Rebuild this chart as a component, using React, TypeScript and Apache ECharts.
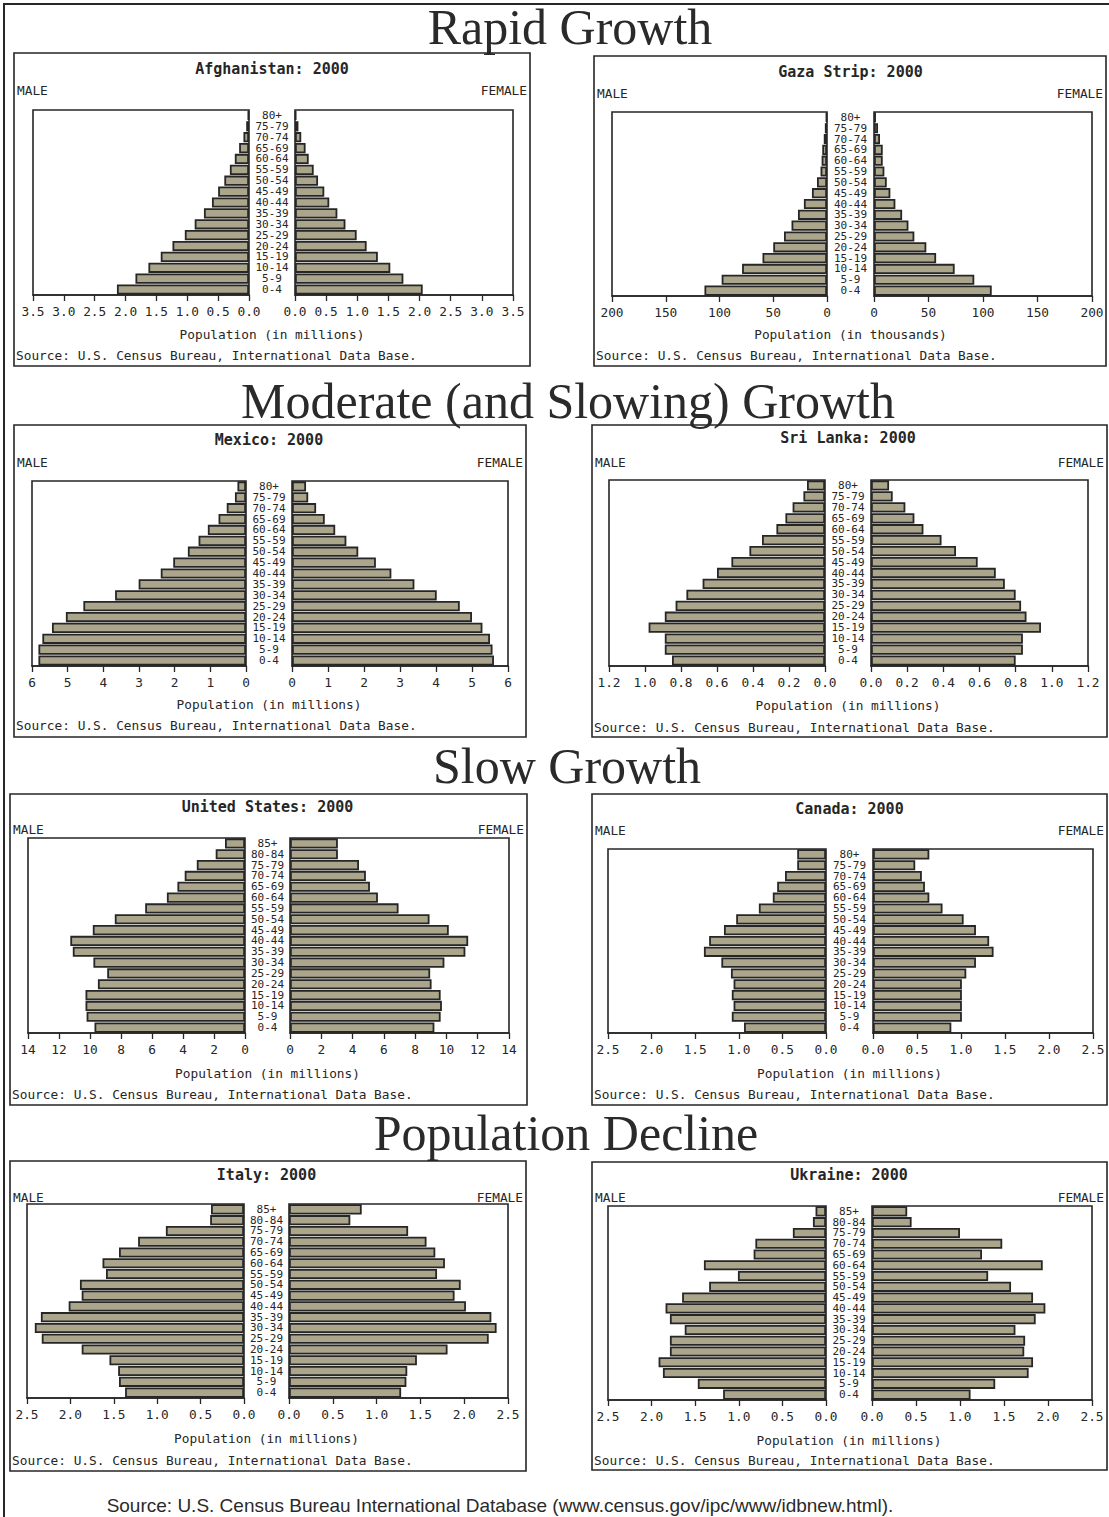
import React, { useEffect, useRef } from "react";
import * as echarts from "echarts";

// ---------- Data ----------
const ages17 = ["0-4", "5-9", "10-14", "15-19", "20-24", "25-29", "30-34", "35-39", "40-44", "45-49", "50-54", "55-59", "60-64", "65-69", "70-74", "75-79", "80+"];
const ages18 = ["0-4", "5-9", "10-14", "15-19", "20-24", "25-29", "30-34", "35-39", "40-44", "45-49", "50-54", "55-59", "60-64", "65-69", "70-74", "75-79", "80-84", "85+"];

const sectionTitles = ["Rapid Growth", "Moderate (and Slowing) Growth", "Slow Growth", "Population Decline"];
const footerText = "Source: U.S. Census Bureau International Database (www.census.gov/ipc/www/idbnew.html).";
const panelSource = "Source: U.S. Census Bureau, International Data Base.";

const afghanistanMale = [2.14, 1.84, 1.63, 1.43, 1.24, 1.04, 0.88, 0.73, 0.6, 0.5, 0.4, 0.31, 0.23, 0.16, 0.09, 0.045, 0.02];
const afghanistanFemale = [2.05, 1.74, 1.53, 1.33, 1.15, 0.99, 0.81, 0.68, 0.55, 0.47, 0.37, 0.3, 0.22, 0.17, 0.1, 0.055, 0.02];

const gazaMale = [114, 98, 79, 60, 50, 40, 33, 27, 21.5, 14, 9.3, 6, 5, 4.4, 3, 2, 1];
const gazaFemale = [108, 92, 74, 57, 48, 37, 31.6, 25.8, 19.6, 15, 11.7, 9.5, 8, 8, 5.5, 3.7, 1.8];

const mexicoMale = [5.82, 5.82, 5.71, 5.44, 5.05, 4.56, 3.67, 3.01, 2.39, 2.04, 1.63, 1.33, 1.07, 0.77, 0.54, 0.31, 0.24];
const mexicoFemale = [5.61, 5.57, 5.5, 5.29, 5.0, 4.66, 4.02, 3.4, 2.76, 2.33, 1.84, 1.51, 1.2, 0.91, 0.67, 0.45, 0.39];

const sriLankaMale = [0.85, 0.89, 0.89, 0.98, 0.89, 0.83, 0.77, 0.68, 0.6, 0.52, 0.42, 0.35, 0.27, 0.22, 0.18, 0.12, 0.1];
const sriLankaFemale = [0.8, 0.84, 0.84, 0.94, 0.86, 0.83, 0.8, 0.74, 0.69, 0.59, 0.47, 0.39, 0.29, 0.24, 0.19, 0.12, 0.1];

const usMale = [9.71, 10.22, 10.29, 10.29, 9.49, 8.89, 9.78, 11.11, 11.27, 9.82, 8.4, 6.44, 5.04, 4.36, 3.89, 3.11, 1.89, 1.29];
const usFemale = [9.23, 9.63, 9.71, 9.63, 9.05, 8.96, 9.87, 11.21, 11.39, 10.15, 8.92, 6.94, 5.62, 5.11, 4.85, 4.41, 3.06, 3.06];

const canadaMale = [0.94, 1.08, 1.06, 1.08, 1.06, 1.09, 1.2, 1.4, 1.34, 1.17, 1.03, 0.77, 0.61, 0.56, 0.47, 0.33, 0.33];
const canadaFemale = [0.89, 1.01, 1.01, 1.01, 1.01, 1.06, 1.17, 1.37, 1.32, 1.17, 1.03, 0.79, 0.64, 0.59, 0.555, 0.48, 0.64];

const italyMale = [1.37, 1.44, 1.45, 1.55, 1.87, 2.33, 2.41, 2.34, 2.02, 1.87, 1.89, 1.59, 1.63, 1.44, 1.22, 0.9, 0.39, 0.38];
const italyFemale = [1.28, 1.34, 1.35, 1.46, 1.81, 2.28, 2.37, 2.31, 2.02, 1.89, 1.96, 1.69, 1.78, 1.67, 1.57, 1.36, 0.7, 0.83];

const ukraineMale = [1.18, 1.47, 1.87, 1.92, 1.79, 1.79, 1.62, 1.79, 1.84, 1.65, 1.34, 1.01, 1.4, 0.83, 0.81, 0.38, 0.15, 0.12];
const ukraineFemale = [1.12, 1.4, 1.78, 1.83, 1.73, 1.74, 1.63, 1.86, 1.97, 1.83, 1.58, 1.32, 1.94, 1.25, 1.48, 1.0, 0.45, 0.4];

// ---------- Layout ----------
type Panel = {
  title: string;
  ages: string[];
  male: number[];
  female: number[];
  max: number;
  interval: number;
  decimals: number;
  unit: string;
  box: number[];
  mp: number[];
  fp: number[];
  titleY: number;
  sexY: number;
  popY: number;
  srcY: number;
};

const panels: Panel[] = [
  { title: "Afghanistan: 2000", ages: ages17, male: afghanistanMale, female: afghanistanFemale, max: 3.5, interval: 0.5, decimals: 1, unit: "Population (in millions)",
    box: [14, 53, 530, 366], mp: [33, 110, 249, 295], fp: [295, 110, 513, 295], titleY: 69, sexY: 90, popY: 334, srcY: 355 },
  { title: "Gaza Strip: 2000", ages: ages17, male: gazaMale, female: gazaFemale, max: 200, interval: 50, decimals: 0, unit: "Population (in thousands)",
    box: [594, 56, 1106, 366], mp: [612, 112, 827, 296], fp: [874, 112, 1092, 296], titleY: 72, sexY: 93, popY: 334, srcY: 355 },
  { title: "Mexico: 2000", ages: ages17, male: mexicoMale, female: mexicoFemale, max: 6, interval: 1, decimals: 0, unit: "Population (in millions)",
    box: [14, 425, 526, 737], mp: [32, 481, 246, 666], fp: [292, 481, 508, 666], titleY: 440, sexY: 462, popY: 704, srcY: 725 },
  { title: "Sri Lanka: 2000", ages: ages17, male: sriLankaMale, female: sriLankaFemale, max: 1.2, interval: 0.2, decimals: 1, unit: "Population (in millions)",
    box: [592, 425, 1107, 737], mp: [609, 480, 825, 666], fp: [871, 480, 1088, 666], titleY: 438, sexY: 462, popY: 705, srcY: 727 },
  { title: "United States: 2000", ages: ages18, male: usMale, female: usFemale, max: 14, interval: 2, decimals: 0, unit: "Population (in millions)",
    box: [10, 794, 527, 1105], mp: [28, 838, 245, 1033], fp: [290, 838, 509, 1033], titleY: 807, sexY: 829, popY: 1073, srcY: 1094 },
  { title: "Canada: 2000", ages: ages17, male: canadaMale, female: canadaFemale, max: 2.5, interval: 0.5, decimals: 1, unit: "Population (in millions)",
    box: [592, 794, 1107, 1105], mp: [608, 849, 826, 1033], fp: [873, 849, 1093, 1033], titleY: 809, sexY: 830, popY: 1073, srcY: 1094 },
  { title: "Italy: 2000", ages: ages18, male: italyMale, female: italyFemale, max: 2.5, interval: 0.5, decimals: 1, unit: "Population (in millions)",
    box: [10, 1161, 526, 1471], mp: [27, 1204, 244, 1398], fp: [289, 1204, 508, 1398], titleY: 1175, sexY: 1197, popY: 1438, srcY: 1460 },
  { title: "Ukraine: 2000", ages: ages18, male: ukraineMale, female: ukraineFemale, max: 2.5, interval: 0.5, decimals: 1, unit: "Population (in millions)",
    box: [592, 1162, 1107, 1470], mp: [608, 1206, 826, 1400], fp: [872, 1206, 1092, 1400], titleY: 1175, sexY: 1197, popY: 1440, srcY: 1460 },
];

const sectionPos = [
  { x: 570, y: 27 },
  { x: 568, y: 401 },
  { x: 567, y: 766 },
  { x: 566, y: 1133 },
];

const INK = "#262626";
const BAR = "#aba58c";
const MONO = "DejaVu Sans Mono";

function buildOption() {
  const grid: any[] = [];
  const xAxis: any[] = [];
  const yAxis: any[] = [];
  const series: any[] = [];
  const graphic: any[] = [];

  graphic.push({
    type: "polyline",
    shape: { points: [[4, 1517], [4, 4], [1109, 4]] },
    style: { stroke: INK, lineWidth: 2, fill: null },
    silent: true,
  });

  sectionTitles.forEach((t, i) => {
    graphic.push({
      type: "text",
      x: sectionPos[i].x,
      y: sectionPos[i].y,
      style: { text: t, font: '50px "Liberation Serif"', fill: "#2a2a2a", textAlign: "center", textVerticalAlign: "middle" },
    });
  });

  graphic.push({
    type: "text",
    x: 500,
    y: 1505,
    style: { text: footerText, font: '19px "Liberation Sans"', fill: "#2a2a2a", textAlign: "center", textVerticalAlign: "middle" },
  });

  panels.forEach((p) => {
    const [bx0, by0, bx1, by1] = p.box;
    const midX = (p.mp[2] + p.fp[0]) / 2;
    const gapHalf = (p.fp[0] - p.mp[2]) / 2;
    const fmt = (v: number) => (p.decimals ? v.toFixed(p.decimals) : String(Math.round(v)));

    graphic.push({
      type: "rect",
      shape: { x: bx0, y: by0, width: bx1 - bx0, height: by1 - by0 },
      style: { fill: null, stroke: INK, lineWidth: 1.6 },
      silent: true,
    });
    graphic.push({
      type: "text", x: midX, y: p.titleY,
      style: { text: p.title, font: `bold 15px "${MONO}"`, fill: INK, textAlign: "center", textVerticalAlign: "middle" },
    });
    graphic.push({
      type: "text", x: bx0 + 3, y: p.sexY,
      style: { text: "MALE", font: `12.8px "${MONO}"`, fill: INK, textAlign: "left", textVerticalAlign: "middle" },
    });
    graphic.push({
      type: "text", x: bx1 - 3, y: p.sexY,
      style: { text: "FEMALE", font: `12.8px "${MONO}"`, fill: INK, textAlign: "right", textVerticalAlign: "middle" },
    });
    graphic.push({
      type: "text", x: midX, y: p.popY,
      style: { text: p.unit, font: `12.8px "${MONO}"`, fill: INK, textAlign: "center", textVerticalAlign: "middle" },
    });
    graphic.push({
      type: "text", x: bx0 + 2, y: p.srcY,
      style: { text: panelSource, font: `12.8px "${MONO}"`, fill: INK, textAlign: "left", textVerticalAlign: "middle" },
    });

    const plots = [
      { rect: p.mp, data: p.male, inverse: true, showAges: false },
      { rect: p.fp, data: p.female, inverse: false, showAges: true },
    ];
    plots.forEach((pl) => {
      const gi = grid.length;
      const [x0, y0, x1, y1] = pl.rect;
      grid.push({
        left: x0, top: y0, width: x1 - x0, height: y1 - y0,
        show: true, borderColor: INK, borderWidth: 1.6, backgroundColor: "transparent",
      });
      xAxis.push({
        gridIndex: gi, type: "value", min: 0, max: p.max, interval: p.interval, inverse: pl.inverse,
        axisLine: { show: true, lineStyle: { color: INK, width: 1.6 } },
        axisTick: { show: true, length: 6, lineStyle: { color: INK, width: 1.3 } },
        splitLine: { show: false },
        axisLabel: {
          formatter: fmt, fontFamily: MONO, fontSize: 12.8, color: INK, margin: 10,
          showMinLabel: true, showMaxLabel: true,
        },
      });
      yAxis.push({
        gridIndex: gi, type: "category", data: p.ages, position: "left",
        axisLine: { show: false }, axisTick: { show: false }, splitLine: { show: false },
        axisLabel: {
          show: pl.showAges, interval: 0, align: "center", margin: gapHalf,
          fontFamily: MONO, fontSize: 11, lineHeight: 10, color: INK,
        },
      });
      series.push({
        type: "bar", xAxisIndex: gi, yAxisIndex: gi, data: pl.data,
        barCategoryGap: "6%", silent: true,
        itemStyle: { color: BAR, borderColor: "#262626", borderWidth: 1.8 },
      });
    });
  });

  return {
    animation: false,
    backgroundColor: "#ffffff",
    grid, xAxis, yAxis, series, graphic,
  };
}

export default function App() {
  const ref = useRef<HTMLDivElement>(null);
  useEffect(() => {
    if (!ref.current) return;
    const chart = echarts.init(ref.current, undefined, { renderer: "svg" });
    chart.setOption(buildOption() as any);
    return () => chart.dispose();
  }, []);
  return (
    <div
      ref={ref}
      style={{ position: "absolute", left: 0, top: 0, width: 1109, height: 1517, background: "#fff" }}
    />
  );
}
